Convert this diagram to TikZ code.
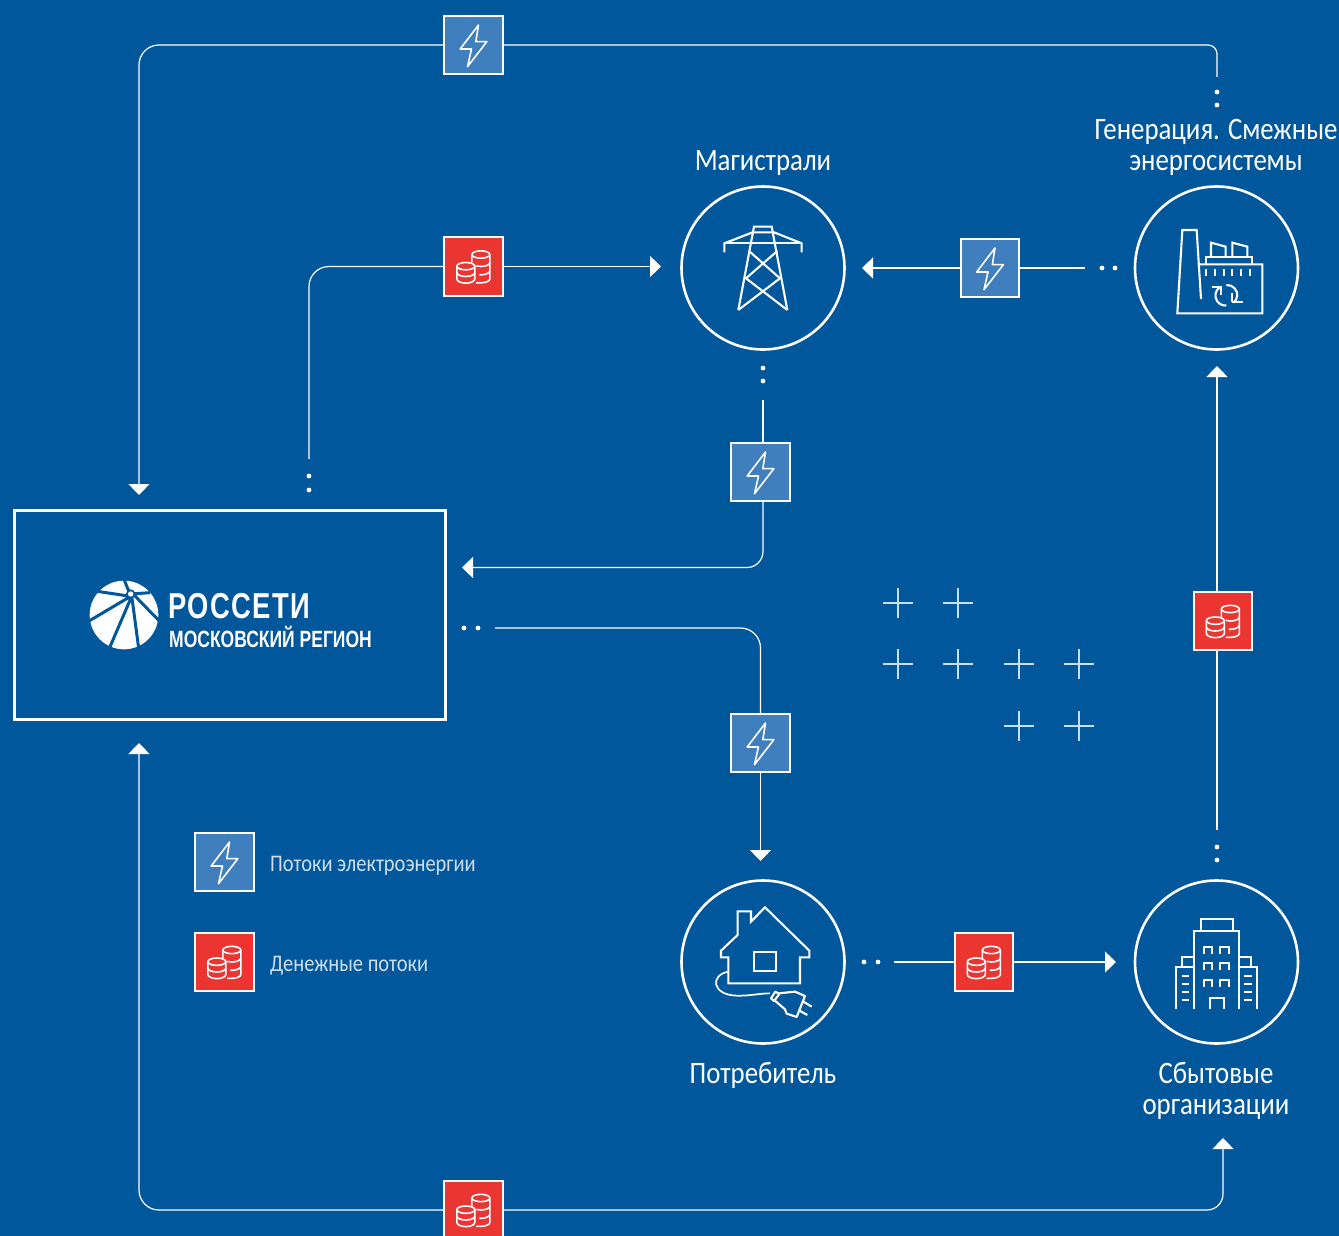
\documentclass[tikz,border=0pt]{standalone}
\usepackage{fontspec}
\usetikzlibrary{arrows.meta}
\setmainfont[FakeStretch=0.86]{Carlito}
\newfontfamily\logoA[FakeStretch=0.76,LetterSpace=4,BoldFont={Liberation Sans Bold}]{Liberation Sans}
\newfontfamily\logoB[FakeStretch=0.745,BoldFont={Liberation Sans Bold}]{Liberation Sans}
\definecolor{bgblue}{RGB}{1,87,155}
\definecolor{sqblue}{RGB}{64,127,190}
\definecolor{sqred}{RGB}{234,53,49}
\definecolor{legendtxt}{RGB}{205,222,238}
\tikzset{
  flow/.style={draw=white,line width=1.2pt,line join=round},
  arrowed/.style={flow,-{Triangle[width=21pt,length=11pt]}},
  station/.style={circle,draw=white,line width=2.6pt,minimum size=163pt,inner sep=0pt,outer sep=0pt},
  flowsq/.style={rectangle,draw=white,line width=2pt,minimum size=58.5pt,inner sep=0pt,outer sep=0pt},
  powersq/.style={flowsq,fill=sqblue},
  moneysq/.style={flowsq,fill=sqred},
  icon/.style={draw=white,line width=2.1pt,line join=miter},
  sqicon/.style={draw=white,line width=1.6pt,line join=round},
  caption/.style={text=white,font=\fontsize{31.2}{31}\selectfont,align=center,inner sep=0pt},
  legendlabel/.style={text=legendtxt,font=\fontsize{23.8}{26}\selectfont,anchor=west,inner sep=0pt},
  crossmark/.style={draw=legendtxt,line width=1.5pt}
}
\newcommand{\powersquare}[3]{%
  \node[powersq] (#1) at (#2,#3) {};
  \begin{scope}[shift={(#1.center)},x=0.3333pt,y=-0.3333pt]
    \draw[sqicon] (15,-60)--(-40,12)--(-6,12)--(-18,65)--(40,-10)--(7,-10)--cycle;
  \end{scope}}
\newcommand{\moneysquare}[3]{%
  \node[moneysq] (#1) at (#2,#3) {};
  \begin{scope}[shift={(#1.center)},x=0.3333pt,y=-0.3333pt]
    \draw[sqicon] (22,-36) ellipse [x radius=27,y radius=11];
    \draw[sqicon] (-5,-36)--(-5,-12) (49,-36)--(49,37) arc[start angle=0,end angle=90,x radius=27,y radius=12]--(8,49);
    \draw[sqicon] (49,-12) arc[start angle=0,end angle=120,x radius=27,y radius=12];
    \draw[sqicon] (49,13) arc[start angle=0,end angle=100,x radius=27,y radius=12];
    \draw[sqicon] (-23,-1) ellipse [x radius=27,y radius=11];
    \draw[sqicon] (-50,-1)--(-50,37) arc[start angle=180,end angle=0,x radius=27,y radius=13]--(4,-1);
    \draw[sqicon] (-50,18) arc[start angle=180,end angle=0,x radius=27,y radius=12];
  \end{scope}}
\newcommand{\plusmark}[2]{\draw[crossmark] (#1-15,#2)--(#1+15,#2) (#1,#2-15)--(#1,#2+15);}
\newcommand{\tinydot}[2]{\fill[white] (#1,#2) circle[radius=2.4];}
\begin{document}
\begin{tikzpicture}[x=1pt,y=-1pt]
\useasboundingbox (0,0) rectangle (1339,1236);
\clip (0,0) rectangle (1339,1236);
\fill[bgblue] (0,0) rectangle (1339,1236);

% stations
\node[station] (mag) at (763,268) {};
\node[station] (gen) at (1216.5,268) {};
\node[station] (con) at (763,962) {};
\node[station] (sal) at (1216.5,962) {};
\node[draw=white,line width=2.1pt,minimum width=431pt,minimum height=209pt,inner sep=0pt,outer sep=0pt] (ros) at (230,615) {};

% flow squares
\powersquare{ptop}{473.5}{45}
\moneysquare{mleft}{473.5}{266.5}
\powersquare{pgen}{990}{268}
\powersquare{pmag}{760.5}{472}
\powersquare{pcon}{760.5}{743}
\moneysquare{msal}{1223}{621}
\moneysquare{mcon}{984}{962}
\moneysquare{mbot}{473.5}{1210}
\powersquare{plegend}{224.5}{862}
\moneysquare{mlegend}{224.5}{962}

% free ends
\coordinate (e1) at (1217,77);
\coordinate (a1) at (139,495);
\coordinate (e2) at (309,459);
\coordinate (a2) at (661,266.5);
\coordinate (e3) at (1085,268);
\coordinate (a3) at (862,268);
\coordinate (e4) at (763,400);
\coordinate (a4) at (462,567.5);
\coordinate (e5) at (495,628);
\coordinate (a5) at (760.5,861);
\coordinate (e6) at (894,962);
\coordinate (a6) at (1116,962);
\coordinate (e7) at (1217,830);
\coordinate (a7) at (1217,366);
\coordinate (a8) at (1223,1138);
\coordinate (a9) at (139,743);

% connectors
\draw[flow,rounded corners=9pt] (e1)|-(ptop.east);
\draw[arrowed,rounded corners=20pt] (ptop.west)-|(a1);
\draw[flow,rounded corners=20pt] (e2)|-(mleft.west);
\draw[arrowed] (mleft.east)--(a2);
\draw[flow] (e3)--(pgen.east);
\draw[arrowed] (pgen.west)--(a3);
\draw[flow] (e4)--(e4|-pmag.north);
\draw[arrowed,rounded corners=16pt] (e4|-pmag.south)|-(a4);
\draw[flow,rounded corners=20pt] (e5)-|(pcon.north);
\draw[arrowed] (pcon.south)--(a5);
\draw[flow] (e6)--(mcon.west);
\draw[arrowed] (mcon.east)--(a6);
\draw[flow] (e7)--(e7|-msal.south);
\draw[arrowed] (e7|-msal.north)--(a7);
\draw[arrowed,rounded corners=16pt] (mbot.east)-|(a8);
\draw[arrowed,rounded corners=20pt] (mbot.west)-|(a9);

% dots
\tinydot{1217}{92}\tinydot{1217}{105}
\tinydot{309}{476}\tinydot{309}{490}
\tinydot{1102}{268}\tinydot{1115}{268}
\tinydot{763}{368}\tinydot{763}{381}
\tinydot{464}{628}\tinydot{478}{628}
\tinydot{864}{962}\tinydot{878}{962}
\tinydot{1217}{847}\tinydot{1217}{860}

% pluses
\plusmark{898}{603}\plusmark{958}{603}
\plusmark{898}{664}\plusmark{958}{664}\plusmark{1019}{664}\plusmark{1079}{664}
\plusmark{1019}{726}\plusmark{1079}{726}

% tower
\begin{scope}[shift={(670,180)},x=0.3333pt,y=-0.3333pt]
  \draw[icon] (205,390)--(252,140)--(305,140)--(352,390);
  \draw[icon] (163,217)--(163,190)--(248,157)--(312,157)--(395,190)--(395,217);
  \draw[icon] (163,190)--(395,190);
  \draw[icon] (237,213)--(330,295)--(205,390);
  \draw[icon] (322,213)--(228,295)--(352,390);
\end{scope}
% factory
\begin{scope}[shift={(1125,180)},x=0.3333pt,y=-0.3333pt]
  \draw[icon] (228,357)--(215,150)--(172,150)--(157,400)--(412,400)--(412,253)--(218,253);
  \draw[icon] (243,253)--(243,232)--(380,232)--(380,253);
  \draw[icon] (258,232)--(258,188)--(302,200)--(302,232);
  \draw[icon] (322,232)--(322,188)--(367,200)--(367,232);
  \foreach \tx in {243,270,296,322,348,374}{\draw[icon] (\tx,266)--(\tx,287);}
  \draw[icon] (260,321)--(290,321) (289,345)--(289,320);
  \draw[icon] (284,322) arc[start angle=235,end angle=85,radius=30];
  \draw[icon] (354,365)--(322,365) (322,340)--(322,366);
  \draw[icon] (326,368) arc[start angle=50,end angle=-95,radius=30];
\end{scope}
% house
\begin{scope}[shift={(670,870)},x=0.3333pt,y=-0.3333pt]
  \draw[icon] (175,340)--(175,262)--(153,262)--(153,242)--(203,195)--(203,124)--(243,124)--(243,155)--(285,112)--(418,242)--(418,262)--(390,262)--(390,340)--cycle;
  \draw[icon] (253,245) rectangle (317,303);
  \draw[icon,line width=1.7pt] (175,305) .. controls (120,315) and (125,375) .. (200,377) .. controls (240,378) and (270,370) .. (300,370);
  \draw[icon,line join=round] (303,385)--(316,365)--(328,372)--(312,393)--cycle;
  \draw[icon,line join=round] (326,370)--(375,365)--(405,378)--(380,441)--(350,431)--(345,418)--(316,393);
  \draw[icon] (400,395)--(425,410) (385,420)--(412,435);
\end{scope}
% building
\begin{scope}[shift={(1125,870)},x=0.3333pt,y=-0.3333pt]
  \draw[icon] (228,182)--(228,148)--(323,148)--(323,182);
  \draw[icon] (208,417)--(208,184)--(342,184)--(342,417);
  \draw[icon] (153,417)--(153,292)--(208,292) (172,292)--(172,262)--(208,262);
  \draw[icon] (397,417)--(397,292)--(342,292) (378,292)--(378,262)--(342,262);
  \foreach \wy in {232,280,330}{
    \draw[icon] (238,\wy+20)--(238,\wy)--(262,\wy)--(262,\wy+20);
    \draw[icon] (286,\wy+20)--(286,\wy)--(313,\wy)--(313,\wy+20);}
  \draw[icon] (256,417)--(256,383)--(297,383)--(297,417);
  \foreach \ty in {318,342,366,390}{
    \draw[icon] (170,\ty)--(193,\ty) (357,\ty)--(380,\ty);}
\end{scope}
% logo
\begin{scope}[shift={(60,560)},x=0.3333pt,y=-0.3333pt]
  \fill[white] (192,165) circle[radius=103];
  \draw[bgblue,line width=3pt] (192,58)--(209,100) (270,98)--(212,102) (105,93)--(205,108) (82,186)--(207,112) (145,272)--(213,114) (237,272)--(216,114) (298,183)--(222,105);
  \fill[bgblue] (212,102) circle[radius=14];
  \fill[white] (212,102) circle[radius=8];
\end{scope}
\node[anchor=base west,inner sep=0pt,text=white] (logoa) at (168,618) {\logoA\fontsize{36}{36}\selectfont\bfseries РОССЕТИ};
\node[anchor=base west,inner sep=0pt,text=white] (logob) at (169,647) {\logoB\fontsize{23.5}{24}\selectfont\bfseries МОСКОВСКИЙ РЕГИОН};

% captions
\node[caption] (capgen) at (1216,147.5) {Генерация. Смежные\\энергосистемы};
\node[caption] (capmag) at (763,163) {Магистрали};
\node[caption] (capcon) at (763,1075.5) {Потребитель};
\node[caption] (capsal) at (1216,1091) {Сбытовые\\организации};
\node[legendlabel] (legp) at (270,866) {Потоки электроэнергии};
\node[legendlabel] (legm) at (270,966) {Денежные потоки};
\end{tikzpicture}
\end{document}
